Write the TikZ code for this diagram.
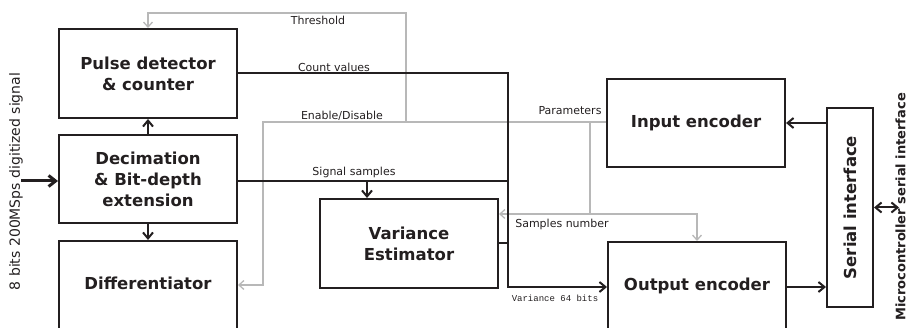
\documentclass[tikz,border=0pt]{standalone}
\usepackage{fontspec}
\setmainfont{DejaVu Sans}
\newfontfamily\monofont{Liberation Mono}
\usetikzlibrary{arrows.meta}
\definecolor{ink}{HTML}{231F20}
\definecolor{gline}{HTML}{B8B8B8}
\begin{document}
\begin{tikzpicture}[x=1pt,y=-1pt,
 box/.style={draw=ink, line width=2pt, inner sep=0pt, font=\bfseries\fontsize{16.5}{21}\selectfont, text=ink, align=center},
 boxtext/.style={inner sep=0pt, font=\bfseries\fontsize{16.5}{21}\selectfont, text=ink, align=center},
 blk/.style={draw=ink, line width=2pt},
 gry/.style={draw=gline, line width=1.3pt},
 barb/.style={-{Straight Barb[length=6pt,width=10pt]}},
 gbarb/.style={-{Straight Barb[length=5pt,width=9pt]}},
 lbl/.style={font=\fontsize{11}{13}\selectfont, text=ink, inner sep=0pt},
]
\useasboundingbox (0,0) rectangle (908,328);
\clip (0,0) rectangle (908,328);

% boxes
\node[box, minimum width=178, minimum height=89] (pulse) at (148,73.5) {Pulse detector\\\& counter};
\node[box, minimum width=178, minimum height=88] (dec) at (148,179) {Decimation\\\& Bit-depth\\extension};
\node[box, minimum width=178, minimum height=99] (diff) at (148,290.5) {};
\node[boxtext] (difft) at (148,283) {Differentiator};
\node[box, minimum width=178, minimum height=89] (var) at (409,243.5) {Variance\\Estimator};
\node[box, minimum width=178, minimum height=88] (inenc) at (696,123) {Input encoder};
\node[box, minimum width=178, minimum height=98] (outenc) at (697,291) {};
\node[boxtext] (outt) at (697,286) {Output encoder};
\node[box, minimum width=46, minimum height=199] (serial) at (850,207.5) {\rotatebox{90}{Serial interface}};

% outer labels
\node[rotate=90, inner sep=0pt, text=ink, font=\fontsize{14}{16}\selectfont] (sig) at (16,181.5) {8 bits 200MSps digitized signal};
\node[rotate=90, inner sep=0pt, text=ink, font=\bfseries\fontsize{13}{15}\selectfont] (mcu) at (900.5,207) {Microcontroller serial interface};

% coordinates
\coordinate (thb) at (406,122);
\coordinate (tht) at (406,13);
\coordinate (en) at (263,122);
\coordinate (dfy) at (0,285);
\coordinate (sn) at (590,122);
\coordinate (sny) at (0,214);
\coordinate (bus) at (508,73);
\coordinate (outy) at (0,287);
\coordinate (sigy) at (0,181);
\coordinate (ssx) at (367,181);
\coordinate (inp) at (21,181);
\coordinate (mc) at (899,207);

% gray control lines
\draw[gry,gbarb] (thb) -- (tht) -| (pulse.north);
\draw[gry,gbarb] (inenc.west |- thb) -- (en) |- (diff.east |- dfy);
\draw[gry] (sn) -- (sn |- sny);
\draw[gry,{Straight Barb[length=5pt,width=9pt]}-{Straight Barb[length=5pt,width=9pt]}] (var.east |- sny) -- (outenc.north |- sny) -- (outenc.north);

% black data lines
\draw[blk,barb] (pulse.east) -| (bus |- outy) -- (outenc.west |- outy);
\draw[blk] (dec.east |- sigy) -- (bus |- sigy);
\draw[blk,barb] (ssx) -- (ssx |- var.north);
\draw[blk] (var.east) -- (bus |- var.east);
\draw[blk,barb] (dec.north) -- (pulse.south);
\draw[blk,barb] (dec.south) -- (diff.north);
\draw[blk,line width=3pt,-{Straight Barb[length=7pt,width=11pt]}] (inp) -- (dec.west |- inp);
\draw[blk,barb] (serial.west |- inenc.east) -- (inenc.east);
\draw[blk,barb] (outenc.east |- outy) -- (serial.west |- outy);
\draw[blk,{Straight Barb[length=6pt,width=10pt]}-{Straight Barb[length=6pt,width=10pt]}] (serial.east) -- (mc |- serial.east);

% line labels
\node[lbl] (lthr) at (318,20) {Threshold};
\node[lbl] (lcnt) at (334,67) {Count values};
\node[lbl] (lena) at (342,116) {Enable/Disable};
\node[lbl] (lpar) at (570,111) {Parameters};
\node[lbl] (lsig) at (354,172) {Signal samples};
\node[lbl] (lsmp) at (562,224) {Samples number};
\node[inner sep=0pt, text=ink, font=\monofont\fontsize{9}{10}\selectfont] (lvar) at (555,298) {Variance 64 bits};
\end{tikzpicture}
\end{document}
